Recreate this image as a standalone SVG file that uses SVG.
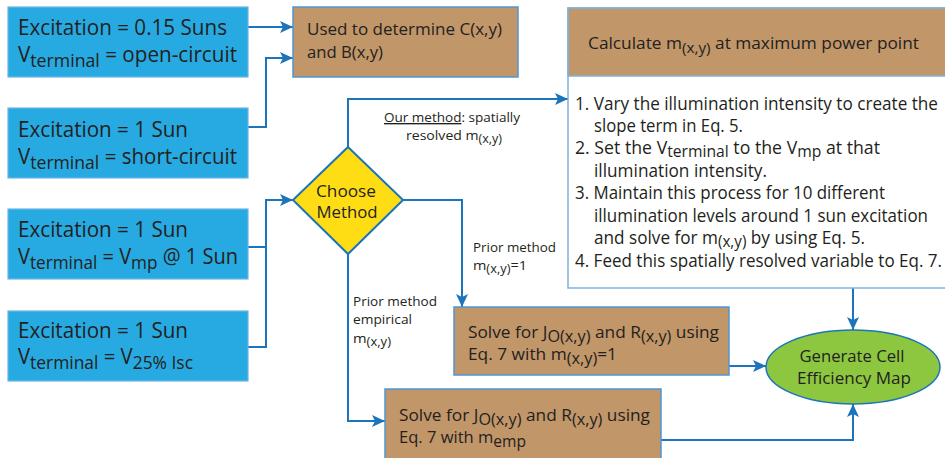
<svg xmlns="http://www.w3.org/2000/svg" width="945" height="458" viewBox="0 0 945 458">
<defs>
<marker id="ah" markerUnits="userSpaceOnUse" markerWidth="14" markerHeight="12" refX="13" refY="6" orient="auto">
<path d="M0,0 L13,6 L0,12 L3,6 z" fill="#1C75BC"/>
</marker>
<style>
text{font-family:"Open Sans","Noto Sans","Liberation Sans",sans-serif;fill:#231F20}
.bl{fill:#27AAE1;stroke:#6CB6E4;stroke-width:1.2}
.br{fill:#C19669;stroke:#4F95D3;stroke-width:1.5}
.wb{fill:#FFFFFF;stroke:#7FB3DE;stroke-width:1.5}
.big{font-size:21px}
.med{font-size:17px}
.lst{font-size:17.5px}
.lab{font-size:13.5px}
.c{stroke:#1C75BC;stroke-width:2;fill:none;marker-end:url(#ah)}
.cn{stroke:#1C75BC;stroke-width:2;fill:none}
</style>
</defs>
<g id="connectors">
<path class="c" d="M248,27 H293"/>
<path class="c" d="M248,127 H266 V58 H293"/>
<path class="c" d="M248,247 H266 V200 H293"/>
<path class="cn" d="M248,347 H266 V247"/>
<path class="c" d="M348,147 V99 H568"/>
<path class="c" d="M403,200 H462 V307"/>
<path class="c" d="M348,254 V421 H385"/>
<path class="c" d="M853,288 V330"/>
<path class="c" d="M729,366 H766"/>
<path class="c" d="M661,440 H853 V404"/>
<text class="lab" x="384" y="122" textLength="136" lengthAdjust="spacingAndGlyphs"><tspan text-decoration="underline">Our method</tspan>: spatially</text>
<text class="lab" x="406" y="140" textLength="96" lengthAdjust="spacingAndGlyphs">resolved m<tspan dy="3" font-size="12">(x,y)</tspan></text>
<text class="lab" x="473" y="252" textLength="83" lengthAdjust="spacingAndGlyphs">Prior method</text>
<text class="lab" x="473" y="270" textLength="54" lengthAdjust="spacingAndGlyphs">m<tspan dy="3" font-size="12">(x,y)</tspan><tspan dy="-3">=1</tspan></text>
<text class="lab" x="353" y="306" textLength="84" lengthAdjust="spacingAndGlyphs">Prior method</text>
<text class="lab" x="353" y="324" textLength="59" lengthAdjust="spacingAndGlyphs">empirical</text>
<text class="lab" x="353" y="343" textLength="38" lengthAdjust="spacingAndGlyphs">m<tspan dy="3" font-size="12">(x,y)</tspan></text>
</g>
<g id="box1">
<rect class="bl" x="8" y="7" width="240" height="70"/>
<text class="big" x="18" y="35" textLength="209" lengthAdjust="spacingAndGlyphs">Excitation = 0.15 Suns</text>
<text class="big" x="18" y="62" textLength="219" lengthAdjust="spacingAndGlyphs">V<tspan dy="5" font-size="18">terminal</tspan><tspan dy="-5"> = open-circuit</tspan></text>
</g>
<g id="box2">
<rect class="bl" x="8" y="108" width="240" height="70"/>
<text class="big" x="18" y="137" textLength="170" lengthAdjust="spacingAndGlyphs">Excitation = 1 Sun</text>
<text class="big" x="18" y="164" textLength="219" lengthAdjust="spacingAndGlyphs">V<tspan dy="5" font-size="18">terminal</tspan><tspan dy="-5"> = short-circuit</tspan></text>
</g>
<g id="box3">
<rect class="bl" x="8" y="209" width="240" height="70"/>
<text class="big" x="18" y="237" textLength="170" lengthAdjust="spacingAndGlyphs">Excitation = 1 Sun</text>
<text class="big" x="18" y="264" textLength="220" lengthAdjust="spacingAndGlyphs">V<tspan dy="5" font-size="18">terminal</tspan><tspan dy="-5"> = V</tspan><tspan dy="5" font-size="18">mp</tspan><tspan dy="-5"> @ 1 Sun</tspan></text>
</g>
<g id="box4">
<rect class="bl" x="8" y="311" width="240" height="70"/>
<text class="big" x="18" y="338" textLength="170" lengthAdjust="spacingAndGlyphs">Excitation = 1 Sun</text>
<text class="big" x="18" y="364" textLength="175" lengthAdjust="spacingAndGlyphs">V<tspan dy="5" font-size="18">terminal</tspan><tspan dy="-5"> = V</tspan><tspan dy="5" font-size="18">25% Isc</tspan></text>
</g>
<g id="determine">
<rect class="br" x="293" y="7" width="225" height="70"/>
<text class="med" x="307" y="35" textLength="195" lengthAdjust="spacingAndGlyphs">Used to determine C(x,y)</text>
<text class="med" x="307" y="58" textLength="76" lengthAdjust="spacingAndGlyphs">and B(x,y)</text>
</g>
<g id="choose">
<polygon points="348,147 403,200 348,254 293,200" fill="#FFDD15" stroke="#1C75BC" stroke-width="2"/>
<text class="med" x="346" y="197" text-anchor="middle" textLength="60" lengthAdjust="spacingAndGlyphs">Choose</text>
<text class="med" x="347" y="218" text-anchor="middle" textLength="61" lengthAdjust="spacingAndGlyphs">Method</text>
</g>
<g id="calculate">
<rect class="wb" x="568" y="8" width="385" height="280"/>
<rect class="br" x="568" y="8" width="385" height="68" style="stroke:#7FB3DE"/>
<text class="med" x="588" y="49" textLength="331" lengthAdjust="spacingAndGlyphs">Calculate m<tspan dy="4" font-size="15">(x,y)</tspan><tspan dy="-4"> at maximum power point</tspan></text>
<text class="lst" x="575" y="110" textLength="363" lengthAdjust="spacingAndGlyphs">1. Vary the illumination intensity to create the</text>
<text class="lst" x="594" y="132" textLength="149" lengthAdjust="spacingAndGlyphs">slope term in Eq. 5.</text>
<text class="lst" x="575" y="154" textLength="305" lengthAdjust="spacingAndGlyphs">2. Set the V<tspan dy="3" font-size="15.5">terminal</tspan><tspan dy="-3"> to the V</tspan><tspan dy="3" font-size="15.5">mp</tspan><tspan dy="-3"> at that</tspan></text>
<text class="lst" x="594" y="177" textLength="173" lengthAdjust="spacingAndGlyphs">illumination intensity.</text>
<text class="lst" x="575" y="199" textLength="310" lengthAdjust="spacingAndGlyphs">3. Maintain this process for 10 different</text>
<text class="lst" x="594" y="222" textLength="334" lengthAdjust="spacingAndGlyphs">illumination levels around 1 sun excitation</text>
<text class="lst" x="594" y="244" textLength="271" lengthAdjust="spacingAndGlyphs">and solve for m<tspan dy="3" font-size="15.5">(x,y)</tspan><tspan dy="-3"> by using Eq. 5.</tspan></text>
<text class="lst" x="575" y="267" textLength="367" lengthAdjust="spacingAndGlyphs">4. Feed this spatially resolved variable to Eq. 7.</text>
</g>
<g id="solve1">
<rect class="br" x="454" y="307" width="275" height="68"/>
<text class="med" x="468" y="338" textLength="251" lengthAdjust="spacingAndGlyphs">Solve for J<tspan dy="4" font-size="16">O(x,y)</tspan><tspan dy="-4"> and R</tspan><tspan dy="4" font-size="16">(x,y)</tspan><tspan dy="-4"> using</tspan></text>
<text class="med" x="468" y="360" textLength="149" lengthAdjust="spacingAndGlyphs">Eq. 7 with m<tspan dy="4" font-size="16">(x,y)</tspan><tspan dy="-4">=1</tspan></text>
</g>
<g id="solve2">
<rect class="br" x="385" y="389" width="276" height="72"/>
<text class="med" x="399" y="421" textLength="251" lengthAdjust="spacingAndGlyphs">Solve for J<tspan dy="4" font-size="16">O(x,y)</tspan><tspan dy="-4"> and R</tspan><tspan dy="4" font-size="16">(x,y)</tspan><tspan dy="-4"> using</tspan></text>
<text class="med" x="399" y="443" textLength="127" lengthAdjust="spacingAndGlyphs">Eq. 7 with m<tspan dy="4" font-size="16">emp</tspan></text>
</g>
<g id="generate">
<ellipse cx="853" cy="367" rx="87" ry="37" fill="#8DC63F" stroke="#1C75BC" stroke-width="1.5"/>
<text class="med" x="852" y="362" text-anchor="middle" textLength="105" lengthAdjust="spacingAndGlyphs">Generate Cell</text>
<text class="med" x="854" y="384" text-anchor="middle" textLength="114" lengthAdjust="spacingAndGlyphs">Efficiency Map</text>
</g>
</svg>
